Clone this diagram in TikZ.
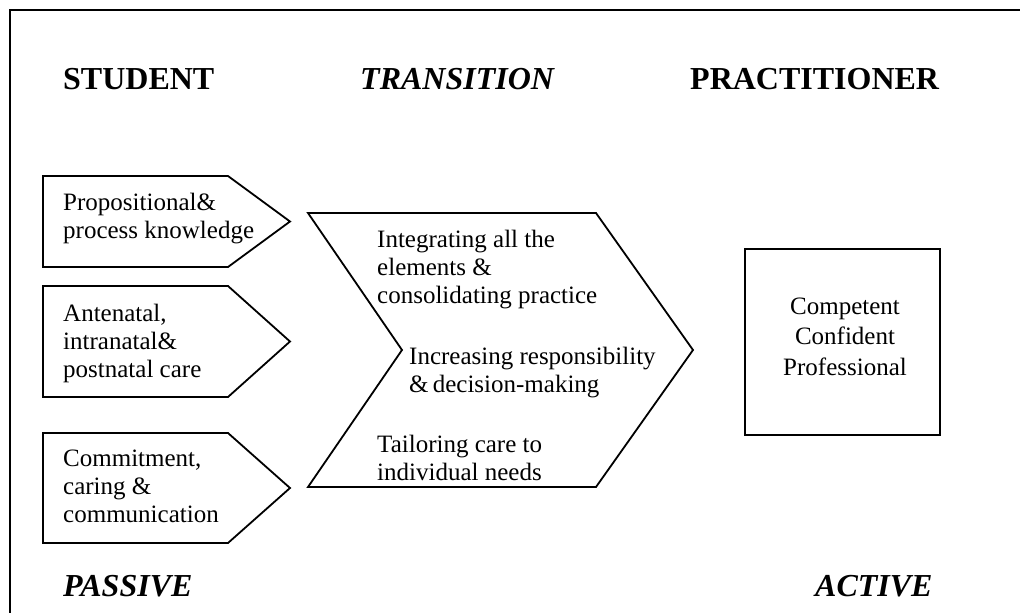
\documentclass[tikz,border=0pt]{standalone}
\usepackage{fontspec}
\setmainfont{Liberation Serif}
\begin{document}
\begin{tikzpicture}[x=1pt,y=-1pt,
  heading/.style={anchor=base west,inner sep=0pt,font=\fontsize{32}{36}\selectfont\bfseries},
  headit/.style={heading,font=\fontsize{32}{36}\selectfont\bfseries\itshape},
  body/.style={anchor=base west,inner sep=0pt,align=left,font=\fontsize{25}{28}\selectfont},
  outcome/.style={anchor=base,inner sep=0pt,align=center,font=\fontsize{25}{30.5}\selectfont},
  pentagon/.style={draw=black,line width=1.8pt,line join=miter},
  chevron/.style={draw=black,line width=1.8pt,line join=miter},
  squarebox/.style={draw=black,line width=2.4pt},
  frameline/.style={draw=black,line width=2.4pt}]
\useasboundingbox (0,0) rectangle (1020,613);
\clip (0,0) rectangle (1020,613);

% outer frame (open towards the right and bottom)
\draw[frameline] (10,640) -- (10,10) -- (1040,10);

% column headings
\node[heading] (student) at (63,89) {STUDENT};
\node[headit] (transition) at (360,89) {TRANSITION};
\node[heading] (practitioner) at (690,89) {PRACTITIONER};

% three input pentagons
\draw[pentagon] (43,176) -- (228,176) -- (290,221.5) -- (228,267) -- (43,267) -- cycle;
\draw[pentagon] (43,286) -- (228,286) -- (290,341.5) -- (228,397) -- (43,397) -- cycle;
\draw[pentagon] (43,433) -- (228,433) -- (290,488) -- (228,543) -- (43,543) -- cycle;

% multi-line texts are placed by the baseline of their last line
\node[body] (knowledge) at (63,238) {Propositional\&\\process knowledge};
\node[body] (care) at (63,377) {Antenatal,\\intranatal\&\\postnatal care};
\node[body] (commit) at (63,522) {Commitment,\\caring \&\\communication};

% transition chevron
\draw[chevron] (308,213) -- (596,213) -- (693,350) -- (596,487) -- (308,487) -- (402,350) -- cycle;

\node[body] (integrating) at (377,303) {Integrating all the\\elements \&\\consolidating practice};
\node[body] (responsibility) at (409,392) {Increasing responsibility\\\&\,decision-making};
\node[body] (tailoring) at (377,480) {Tailoring care to\\individual needs};

% outcome box
\draw[squarebox] (745,249) rectangle (940,435);
\node[outcome] (outcome) at (845,375) {Competent\\Confident\\Professional};

% bottom labels
\node[headit] (passive) at (63,596) {PASSIVE};
\node[headit] (active) at (815,596) {ACTIVE};
\end{tikzpicture}
\end{document}
